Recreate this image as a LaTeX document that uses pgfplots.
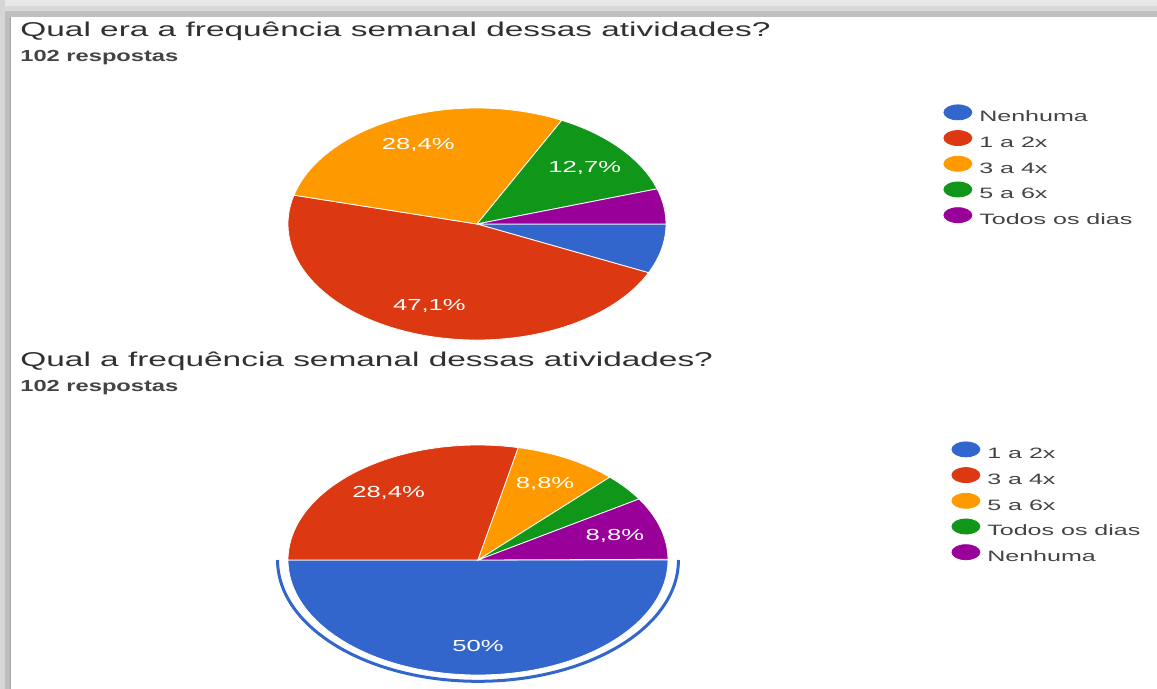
\documentclass[border=0pt]{standalone}
\usepackage{pgfplots}
\pgfplotsset{compat=1.18}
\usepackage{pgfplotstable}
\usepackage{graphicx}
\usepackage{fontspec}
\setmainfont{Liberation Sans}

\definecolor{c0}{HTML}{3366CC}
\definecolor{c1}{HTML}{DC3912}
\definecolor{c2}{HTML}{FF9900}
\definecolor{c3}{HTML}{109618}
\definecolor{c4}{HTML}{990099}
\definecolor{titlegray}{HTML}{303030}
\definecolor{subgray}{HTML}{444444}
\definecolor{leggray}{HTML}{444444}

\newcommand\sx[2]{\scalebox{#1}[1]{#2}}
\newcommand\titlefont{\fontsize{10}{12}\selectfont}
\newcommand\subfont{\fontsize{8}{10}\selectfont\bfseries}
\newcommand\legfont{\fontsize{7.5}{9}\selectfont}
\newcommand\labfont{\fontsize{8}{10}\selectfont}

% slices clockwise from 3 o'clock, percent of 102 answers
\pgfplotstableread{
pct show
6.9 0
47.1 1
28.4 1
12.7 1
4.9 0
}\dataA
\pgfplotstableread{
pct show
50.0 1
28.4 1
8.8 1
3.9 0
8.8 1
}\dataB

\newcommand\drawpie[1]{%
  \def\startang{0}%
  \pgfplotsforeachungrouped \i in {0,...,4}{%
    \pgfplotstablegetelem{\i}{pct}\of#1\let\pct=\pgfplotsretval
    \pgfplotstablegetelem{\i}{show}\of#1\let\shw=\pgfplotsretval
    \pgfmathsetmacro\endang{\startang-3.6*\pct}%
    \pgfmathsetmacro\midang{(\startang+\endang)/2}%
    \edef\cmd{\noexpand\fill[c\i, draw=white, line width=0.4pt]
      (axis cs:0,0) -- (axis cs:{cos(\startang)},{sin(\startang)})
      arc[start angle=\startang, end angle=\endang, x radius=1, y radius=1] -- cycle;}%
    \cmd
    \ifnum\shw=1
      \edef\cmd{\noexpand\node[text=white, font=\noexpand\labfont, inner sep=0pt]
        at (axis cs:{0.75*cos(\midang)},{0.75*sin(\midang)})
        {\noexpand\sx{1.6}{\noexpand\pgfmathprintnumber[use comma,fixed,precision=1,assume math mode=true]{\pct}\noexpand\%}};}%
      \cmd
    \fi
    \let\startang=\endang
  }%
}

\pgfplotsset{
  pie/.style={
    scale only axis, hide axis, clip=false,
    xmin=-1, xmax=1, ymin=-1, ymax=1,
    legend cell align=left,
    legend style={anchor=north west, draw=none, fill=none, inner sep=0pt,
      row sep=0pt, column sep=3.5pt,
      nodes={inner sep=0pt, text height=8.2pt, text depth=4.2pt,
        font=\legfont, text=leggray}},
  },
  dot/.style={legend image code/.code={%
    \fill[#1] (7pt,2.7pt) ellipse[x radius=7pt, y radius=3.75pt];}},
}

\begin{document}
\begin{tikzpicture}[x=0.5pt, y=-0.5pt]
% page and shadow frame
\fill[white] (0,0) rectangle (1157,689);
\fill[black!9] (0,0) rectangle (1157,6);
\fill[black!15] (0,6) rectangle (1157,11);
\fill[black!25] (0,11) rectangle (1157,17);
\fill[black!16] (0,0) rectangle (5,689);
\fill[black!26] (5,17) rectangle (10,689);
\fill[black!35] (10,17) rectangle (11,689);

\coordinate (pA) at (477,224);
\coordinate (pB) at (478,560);

\node[anchor=base west, inner sep=0pt, text=titlegray, font=\titlefont] at (20,37)
  {\sx{1.67}{Qual era a frequência semanal dessas atividades?}};
\node[anchor=base west, inner sep=0pt, text=subgray, font=\subfont] at (20,62)
  {\sx{1.48}{102 respostas}};
\node[anchor=base west, inner sep=0pt, text=titlegray, font=\titlefont] at (20,367)
  {\sx{1.67}{Qual a frequência semanal dessas atividades?}};
\node[anchor=base west, inner sep=0pt, text=subgray, font=\subfont] at (20,392)
  {\sx{1.48}{102 respostas}};

% top pie
\begin{axis}[pie, at={(pA)}, anchor=center, width=189pt, height=116pt,
  legend style={at={(1.733,1.017)}}]
  \drawpie{\dataA}
  \addlegendimage{dot=c0}\addlegendentry{\sx{1.67}{Nenhuma}}
  \addlegendimage{dot=c1}\addlegendentry{\sx{1.67}{1 a 2x}}
  \addlegendimage{dot=c2}\addlegendentry{\sx{1.67}{3 a 4x}}
  \addlegendimage{dot=c3}\addlegendentry{\sx{1.67}{5 a 6x}}
  \addlegendimage{dot=c4}\addlegendentry{\sx{1.67}{Todos os dias}}
\end{axis}

% bottom pie, first slice highlighted
\begin{axis}[pie, at={(pB)}, anchor=center, width=190pt, height=115pt,
  legend style={at={(1.745,1.017)}}]
  \drawpie{\dataB}
  \draw[c0, line width=1.5pt] (axis cs:1.055,0)
    arc[start angle=0, end angle=-180, x radius=1.055, y radius=1.055];
  \addlegendimage{dot=c0}\addlegendentry{\sx{1.67}{1 a 2x}}
  \addlegendimage{dot=c1}\addlegendentry{\sx{1.67}{3 a 4x}}
  \addlegendimage{dot=c2}\addlegendentry{\sx{1.67}{5 a 6x}}
  \addlegendimage{dot=c3}\addlegendentry{\sx{1.67}{Todos os dias}}
  \addlegendimage{dot=c4}\addlegendentry{\sx{1.67}{Nenhuma}}
\end{axis}
\end{tikzpicture}
\end{document}
